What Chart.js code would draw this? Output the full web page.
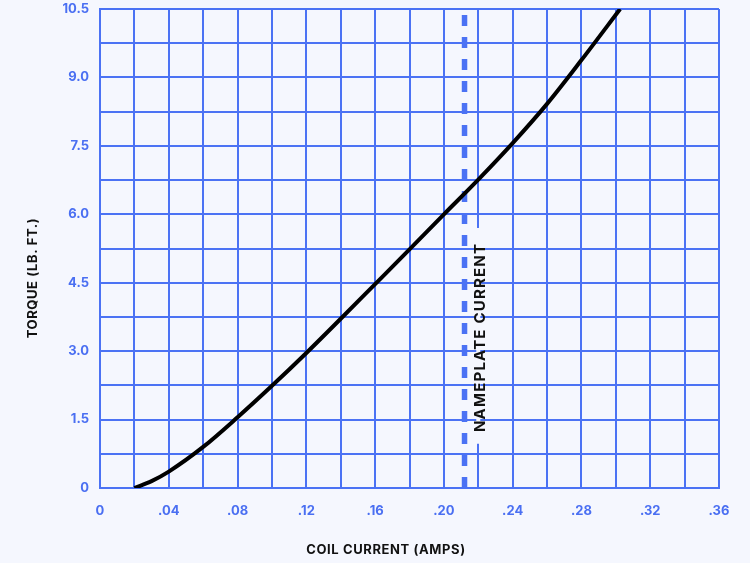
<!DOCTYPE html>
<html>
<head>
<meta charset="utf-8">
<script src="https://cdn.jsdelivr.net/npm/chart.js@4"></script>
<style>
  html, body { margin: 0; padding: 0; background: #f5f7fe; }
  #wrap { width: 750px; height: 563px; }
</style>
</head>
<body>
<div id="wrap"><canvas id="c" width="750" height="563"></canvas></div>
<script>
// ---- data ----
const xTickLabels = ["0", ".04", ".08", ".12", ".16", ".20", ".24", ".28", ".32", ".36"];
const yTickLabels = ["0", "1.5", "3.0", "4.5", "6.0", "7.5", "9.0", "10.5"];
const coilCurrent = [0.02, 0.03, 0.04, 0.06, 0.08, 0.10, 0.12, 0.14, 0.16, 0.18, 0.20, 0.22, 0.24, 0.26, 0.28, 0.3025];
const torque      = [0,    0.15, 0.36, 0.90, 1.55, 2.24, 2.96, 3.71, 4.47, 5.23, 6.0,  6.76, 7.56, 8.42, 9.38, 10.5];
const nameplateCurrent = 0.212;
const nameplateLabel = "NAMEPLATE CURRENT";
const xTitle = "COIL CURRENT (AMPS)";
const yTitle = "TORQUE (LB. FT.)";

const BLUE = "#4b72f4";
const TICK_BLUE = "#4a6ff2";
const BG = "#f5f7fe";
const FONT = "Inter, 'Open Sans', sans-serif";

const curve = coilCurrent.map((x, i) => ({ x: x, y: torque[i] }));
const yMin = 0, yMax = 10.5;
const nameplateLine = [{ x: nameplateCurrent, y: yMin }, { x: nameplateCurrent, y: yMax }];

const bgPlugin = {
  id: 'bg',
  beforeDraw(chart) {
    const ctx = chart.ctx;
    ctx.save();
    ctx.fillStyle = BG;
    ctx.fillRect(0, 0, chart.width, chart.height);
    ctx.restore();
  }
};

const labelsPlugin = {
  id: 'labels',
  beforeDatasetsDraw(chart) {
    const ctx = chart.ctx;
    const xs = chart.scales.x, ys = chart.scales.y;
    const gx = xs.getPixelForValue(0.22);
    ctx.save();
    ctx.fillStyle = BG;
    ctx.fillRect(gx - 2, ys.getPixelForValue(5.7), 4, ys.getPixelForValue(0.97) - ys.getPixelForValue(5.7));
    ctx.restore();
  },
  afterDatasetsDraw(chart) {
    const ctx = chart.ctx;
    const xs = chart.scales.x, ys = chart.scales.y;
    ctx.save();
    ctx.fillStyle = "#111111";
    ctx.textAlign = "center";
    ctx.textBaseline = "middle";
    ctx.font = "bold 15px " + FONT;
    ctx.letterSpacing = "1.2px";
    ctx.translate(xs.getPixelForValue(0.22) + 2, ys.getPixelForValue(3.3));
    ctx.rotate(-Math.PI / 2);
    ctx.fillText(nameplateLabel, 0, 0);
    ctx.restore();

    ctx.save();
    ctx.fillStyle = "#111111";
    ctx.textAlign = "center";
    ctx.textBaseline = "middle";
    ctx.font = "bold 13px " + FONT;
    ctx.letterSpacing = "0.6px";
    ctx.fillText(xTitle, 386, 550);
    ctx.translate(33, 278);
    ctx.rotate(-Math.PI / 2);
    ctx.fillText(yTitle, 0, 0);
    ctx.restore();
  }
};

new Chart(document.getElementById('c'), {
  type: 'scatter',
  data: {
    datasets: [
      {
        label: 'Torque',
        data: curve,
        showLine: true,
        borderColor: '#000000',
        borderWidth: 4,
        pointRadius: 0,
        cubicInterpolationMode: 'monotone',
        order: 0
      },
      {
        label: 'Nameplate current',
        data: nameplateLine,
        showLine: true,
        borderColor: BLUE,
        borderWidth: 5.5,
        borderDash: [11, 11],
        borderCapStyle: 'butt',
        pointRadius: 0,
        order: 1
      }
    ]
  },
  options: {
    responsive: false,
    animation: false,
    layout: { padding: { left: 0, top: 9, right: 31, bottom: 0 } },
    plugins: { legend: { display: false }, tooltip: { enabled: false } },
    scales: {
      x: {
        type: 'linear',
        min: 0, max: 0.36,
        afterFit(s) { s.height = 75; s.paddingLeft = 0; s.paddingRight = 0; },
        border: { color: BLUE, width: 2 },
        grid: { color: BLUE, lineWidth: 2, drawTicks: false },
        ticks: {
          stepSize: 0.02,
          autoSkip: false,
          maxRotation: 0,
          padding: 15,
          color: TICK_BLUE,
          font: { family: FONT, size: 13, weight: 'bold' },
          callback: (v, i) => (i % 2 === 0 ? xTickLabels[i / 2] : '')
        }
      },
      y: {
        min: yMin, max: yMax,
        afterFit(s) { s.width = 100; s.paddingTop = 0; s.paddingBottom = 0; },
        border: { color: BLUE, width: 2 },
        grid: { color: BLUE, lineWidth: 2, drawTicks: false },
        ticks: {
          stepSize: 0.75,
          autoSkip: false,
          padding: 11,
          color: TICK_BLUE,
          font: { family: FONT, size: 13, weight: 'bold' },
          callback: (v, i) => (i % 2 === 0 ? yTickLabels[i / 2] : '')
        }
      }
    }
  },
  plugins: [bgPlugin, labelsPlugin]
});
</script>
</body>
</html>
